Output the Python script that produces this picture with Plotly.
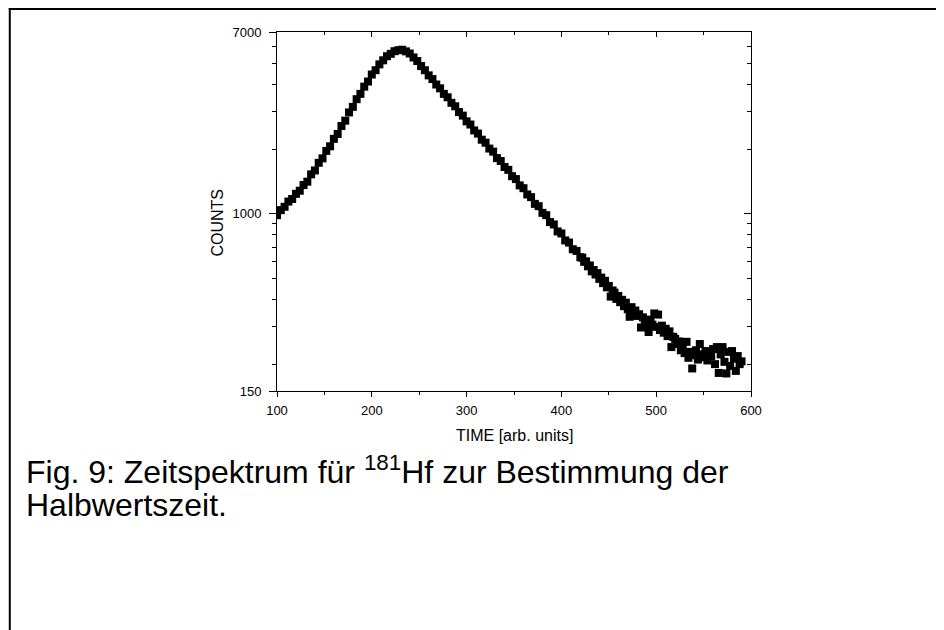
import math
import plotly.graph_objects as go

# ---- data ----
time_main = list(range(100, 421, 4))
counts_main = [
    985, 1040, 1078, 1140, 1172, 1238, 1280, 1360, 1410, 1525,
    1590, 1725, 1810, 1960, 2060, 2230, 2350, 2560, 2710, 2960,
    3140, 3410, 3610, 3900, 4120, 4440, 4650, 4950, 5170, 5400,
    5540, 5700, 5760, 5790, 5690, 5560, 5330, 5130, 4860, 4650,
    4400, 4230, 3990, 3830, 3610, 3480, 3280, 3160, 2970, 2860,
    2690, 2600, 2440, 2360, 2210, 2140, 2010, 1945, 1815, 1760,
    1650, 1600, 1495, 1450, 1355, 1315, 1230, 1195, 1112, 1085,
    1010, 985, 915, 892, 828, 810, 752, 735, 684, 672,
    628,
]
time_tail = list(range(422, 591, 2))
counts_tail = [
    625, 598, 601, 570, 575, 540, 548, 522, 530, 498,
    505, 476, 488, 455, 462, 412, 440, 430, 402, 415,
    388, 398, 372, 386, 360, 332, 368, 342, 355, 335,
    341, 296, 330, 318, 300, 282, 322, 305, 344, 298,
    340, 288, 302, 280, 292, 270, 284, 240, 268, 262,
    248, 255, 232, 240, 225, 254, 214, 228, 191, 220,
    232, 210, 248, 222, 215, 230, 208, 226, 218, 235,
    200, 240, 182, 222, 240, 205, 181, 228, 196, 230,
    212, 186, 218, 200, 206,
]
time_vals = time_main + time_tail
count_vals = counts_main + counts_tail

x_ticks = [100, 200, 300, 400, 500, 600]
x_minor = [150, 250, 350, 450, 550]
y_ticks = [150, 1000, 7000]
y_tick_text = ["150", "1000", "7000"]
y_minor = [200, 300, 400, 500, 600, 700, 800, 900, 2000, 3000, 4000, 5000, 6000]

x_title = "TIME [arb. units]"
y_title = "COUNTS"
caption_1 = "Fig. 9: Zeitspektrum für <sup>181</sup>Hf zur Bestimmung der"
caption_2 = "Halbwertszeit."

# ---- layout geometry: screenshot pixels; the page puts the figure at (8, 8) ----
OFF = 8
W, H = 944 - OFF, 630 - OFF
SL, SR, ST, SB = 276.5, 751, 32, 391          # plot area in screenshot pixels
L, R, T, B = SL - OFF, SR - OFF, ST - OFF, SB - OFF
pw, ph = R - L, B - T


def px(xs):
    return (xs - SL) / pw


def py(ys):
    return (SB - ys) / ph


FONT = "Arial, Liberation Sans, sans-serif"
yr = [math.log10(150), math.log10(7000)]

fig = go.Figure()
fig.add_trace(go.Scatter(
    x=time_vals, y=count_vals, mode="markers",
    marker=dict(symbol="square", size=8, color="black", line=dict(width=0)),
    showlegend=False, hoverinfo="skip",
))
fig.add_trace(go.Scatter(
    x=time_vals, y=count_vals, mode="markers", xaxis="x2", yaxis="y2",
    marker=dict(size=1, opacity=0), showlegend=False, hoverinfo="skip",
))

axis_common = dict(showgrid=False, zeroline=False, showline=True,
                   linecolor="black", linewidth=1, tickcolor="black",
                   tickwidth=1, tickfont=dict(family=FONT, size=13, color="black"))

fig.update_layout(
    width=W, height=H,
    margin=dict(l=L, r=W - R, t=T, b=H - B, pad=0),
    paper_bgcolor="white", plot_bgcolor="white",
    xaxis=dict(range=[100, 600], tickmode="array", tickvals=x_ticks,
               ticks="outside", ticklen=5, ticklabelstandoff=2,
               minor=dict(tickmode="array", tickvals=x_minor, ticks="outside",
                          ticklen=3, tickcolor="black", tickwidth=1),
               **axis_common),
    xaxis2=dict(range=[100, 600], overlaying="x", side="top",
                tickmode="array", tickvals=x_ticks, ticks="inside", ticklen=5,
                showticklabels=False,
                minor=dict(tickmode="array", tickvals=x_minor, ticks="inside",
                           ticklen=3, tickcolor="black", tickwidth=1),
                **axis_common),
    yaxis=dict(type="log", range=yr, tickmode="array", tickvals=y_ticks,
               ticktext=y_tick_text, ticks="outside", ticklen=7,
               ticklabelstandoff=5,
               minor=dict(tickmode="array", tickvals=y_minor, ticks="outside",
                          ticklen=4, tickcolor="black", tickwidth=1),
               **axis_common),
    yaxis2=dict(type="log", range=yr, overlaying="y", side="right",
                tickmode="array", tickvals=y_ticks, ticks="inside", ticklen=7,
                showticklabels=False,
                minor=dict(tickmode="array", tickvals=y_minor, ticks="inside",
                           ticklen=4, tickcolor="black", tickwidth=1),
                **axis_common),
)

ann = [
    dict(text=x_title, x=0.5, y=py(435), xref="paper", yref="paper",
         xanchor="center", yanchor="middle", showarrow=False,
         font=dict(family=FONT, size=16, color="black")),
    dict(text=y_title, x=px(216), y=py(223), xref="paper", yref="paper",
         xanchor="center", yanchor="middle", showarrow=False, textangle=-90,
         font=dict(family=FONT, size=16, color="black")),
    dict(text=caption_1, x=px(23), y=py(470), xref="paper", yref="paper",
         xanchor="left", yanchor="middle", showarrow=False,
         font=dict(family=FONT, size=32, color="black")),
    dict(text=caption_2, x=px(23), y=py(505), xref="paper", yref="paper",
         xanchor="left", yanchor="middle", showarrow=False,
         font=dict(family=FONT, size=32, color="black")),
]
fig.update_layout(annotations=ann)

fig.update_layout(shapes=[
    dict(type="line", xref="paper", yref="paper", x0=px(8), x1=px(950),
         y0=py(9), y1=py(9), line=dict(color="black", width=2)),
    dict(type="line", xref="paper", yref="paper", x0=px(9), x1=px(9),
         y0=py(8), y1=py(640), line=dict(color="black", width=2)),
])

fig.write_html("out.html")
